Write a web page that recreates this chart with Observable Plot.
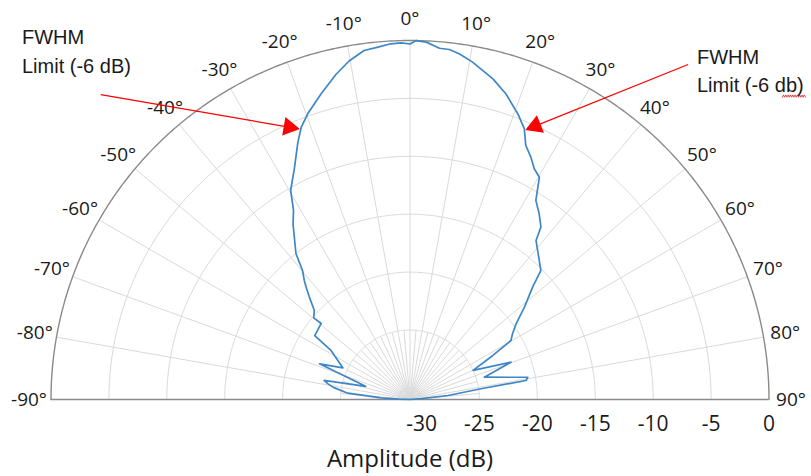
<!DOCTYPE html>
<html><head><meta charset="utf-8">
<script src="https://cdn.jsdelivr.net/npm/d3@7"></script>
<script src="https://cdn.jsdelivr.net/npm/@observablehq/plot@0.6"></script>
<style>body{margin:0;background:#fff;} #chart{width:811px;height:476px;}</style>
</head><body><div id="chart"></div>
<script>
// Beam pattern: angle (deg) and amplitude (dB)
const angleDeg = [-90, -88.5, -86.6, -84.2, -81, -79.2, -77.5, -73.5, -68.5, -64.8, -58.2, -56.2, -49.4, -49.7, -47, -44.5, -42.8, -41.6, -39.8, -38, -33.7, -31.6, -29.7, -26.6, -23.6, -21.8, -19.7, -16.2, -12.8, -10.2, -7.5, -5.2, -3.1, -1.4, 0, 1, 2.6, 4.8, 6.4, 8.1, 10.5, 14.5, 17.4, 20.7, 22.9, 24.5, 26.5, 28.3, 30.2, 32.3, 34.8, 37.2, 38.4, 40.6, 45.4, 47.5, 51.1, 54.5, 57.4, 59.7, 62, 65.2, 69.7, 73.3, 79.3, 80.7, 81.4, 84, 86, 90];
const amplitudeDb = [-31, -30, -28.5, -25.6, -24.3, -23.8, -23.4, -27, -22.6, -24.6, -23, -21.1, -20.9, -20.1, -19.7, -18.6, -17.8, -17.25, -16.5, -15.0, -12.8, -11.8, -10.2, -8.7, -6.8, -5.7, -4.8, -3.5, -2.2, -1.3, -0.6, -0.45, -0.24, -0.19, -0.3, 0, -0.11, -0.56, -0.59, -0.85, -1.37, -2.4, -3.33, -4.64, -5.63, -6.89, -7.61, -8.37, -8.79, -10.66, -11.46, -12.3, -13.48, -14.06, -15.13, -16.64, -18.3, -19.75, -20.5, -20.9, -22.9, -25, -21.7, -24.3, -20.65, -20.85, -24.8, -27.7, -30, -31];
const radialTicks = [-30, -25, -20, -15, -10, -5, 0];
const angleTicks = [-90, -80, -70, -60, -50, -40, -30, -20, -10, 0, 10, 20, 30, 40, 50, 60, 70, 80, 90];
const angleTickLabels = ["-90°", "-80°", "-70°", "-60°", "-50°", "-40°", "-30°", "-20°", "-10°", "0°", "10°", "20°", "30°", "40°", "50°", "60°", "70°", "80°", "90°"];
const minorSpokes = [-85, -75, -65, -55, -45, -35, -25, -15, -5, 5, 15, 25, 35, 45, 55, 65, 75, 85];
const annotationLines = [["FWHM", "Limit (-6 dB)"], ["FWHM", "Limit (-6 db)"]];
// arrows: tail and tip as (angle, dB)
const arrowTailAngle = [-45.4, 39.7], arrowTailDb = [6.5, 6.6];
const arrowTipAngle = [-22.8, 23.7], arrowTipDb = [-5.6, -5.45];

const rMin = -31, rMax = 0, R = rMax - rMin;
const rad = a => a * Math.PI / 180;
const px = (a, db) => (db - rMin) * Math.sin(rad(a));
const py = (a, db) => (db - rMin) * Math.cos(rad(a));

const curve = angleDeg.map((a, i) => ({x: px(a, amplitudeDb[i]), y: py(a, amplitudeDb[i])}));
const rings = radialTicks.flatMap(level => d3.range(-90, 90.001, 0.5).map(a => ({x: px(a, level), y: py(a, level), level})));
const arrows = arrowTipAngle.map((a, i) => {
  const x1 = px(arrowTailAngle[i], arrowTailDb[i]), y1 = py(arrowTailAngle[i], arrowTailDb[i]);
  const x2 = px(a, arrowTipDb[i]), y2 = py(a, arrowTipDb[i]);
  const len = Math.hypot(x2 - x1, y2 - y1);
  const ux = (x2 - x1) / len, uy = (y2 - y1) / len;
  const back = 0.6; // head centroid offset in data units
  return {x1, y1, x2: x2 - ux * 0.9, y2: y2 - uy * 0.9, hx: x2 - ux * back, hy: y2 - uy * back,
          rot: Math.atan2(-uy, ux) * 180 / Math.PI + 90};
});
// spell-check style wavy underline beneath "db" (decoration)
const squiggle = d3.range(0, 21).map(i => ({x: 32.15 + i * 0.1, y: 26.2 + (i % 2 ? 0.1 : -0.1)}));

const font = "'Open Sans', sans-serif";
const plot = Plot.plot({
  width: 811, height: 476,
  marginLeft: 50.5, marginRight: 42.5, marginTop: 40, marginBottom: 77,
  x: {domain: [-R, R], axis: null},
  y: {domain: [0, R], axis: null},
  style: {fontFamily: font, background: "white", color: "#1a1a1a"},
  marks: [
    Plot.line(rings.filter(d => d.level < rMax), {x: "x", y: "y", z: "level", stroke: "#d9d9d9", strokeWidth: 1}),
    Plot.link(minorSpokes, {x1: 0, y1: 0, x2: a => px(a, -25), y2: a => py(a, -25), stroke: "#d9d9d9", strokeWidth: 1}),
    Plot.link(angleTicks, {x1: 0, y1: 0, x2: a => px(a, rMax), y2: a => py(a, rMax), stroke: "#d9d9d9", strokeWidth: 1}),
    Plot.line(rings.filter(d => d.level === rMax), {x: "x", y: "y", stroke: "#8a8a8a", strokeWidth: 1.4}),
    Plot.ruleY([0], {x1: -R, x2: R, stroke: "#8a8a8a", strokeWidth: 1.4}),
    Plot.line(curve, {x: "x", y: "y", stroke: "#3e87c7", strokeWidth: 1.7}),
    Plot.axisX({ticks: radialTicks.map(v => v - rMin), tickFormat: d => String(d + rMin), tickSize: 0, tickPadding: 17, fontSize: 21, label: null}),
    Plot.text(["Amplitude (dB)"], {frameAnchor: "bottom", dy: 67, fontSize: 24}),
    Plot.text(angleTicks, {x: a => px(a, rMax + 1.9), y: a => py(a, rMax + 1.9), text: (a, i) => angleTickLabels[i], fontSize: 19}),
    Plot.link(arrows, {x1: "x1", y1: "y1", x2: "x2", y2: "y2", stroke: "red", strokeWidth: 1.2}),
    Plot.dot(arrows, {x: "hx", y: "hy", rotate: "rot", symbol: "triangle", fill: "red", stroke: "none", r: 7}),
    Plot.text([annotationLines[0].join("\n")], {frameAnchor: "top-left", textAnchor: "start", lineAnchor: "top", dx: -29, dy: -17, lineHeight: 1.45, fontSize: 20, fontFamily: "'Liberation Sans', sans-serif"}),
    Plot.text([annotationLines[1].join("\n")], {frameAnchor: "top-right", textAnchor: "start", lineAnchor: "top", dx: -72, dy: 4, lineHeight: 1.4, fontSize: 20, fontFamily: "'Liberation Sans', sans-serif"}),
    Plot.line(squiggle, {x: "x", y: "y", stroke: "#e02020", strokeWidth: 0.8})
  ]
});
document.getElementById("chart").appendChild(plot);
</script>
</body></html>
